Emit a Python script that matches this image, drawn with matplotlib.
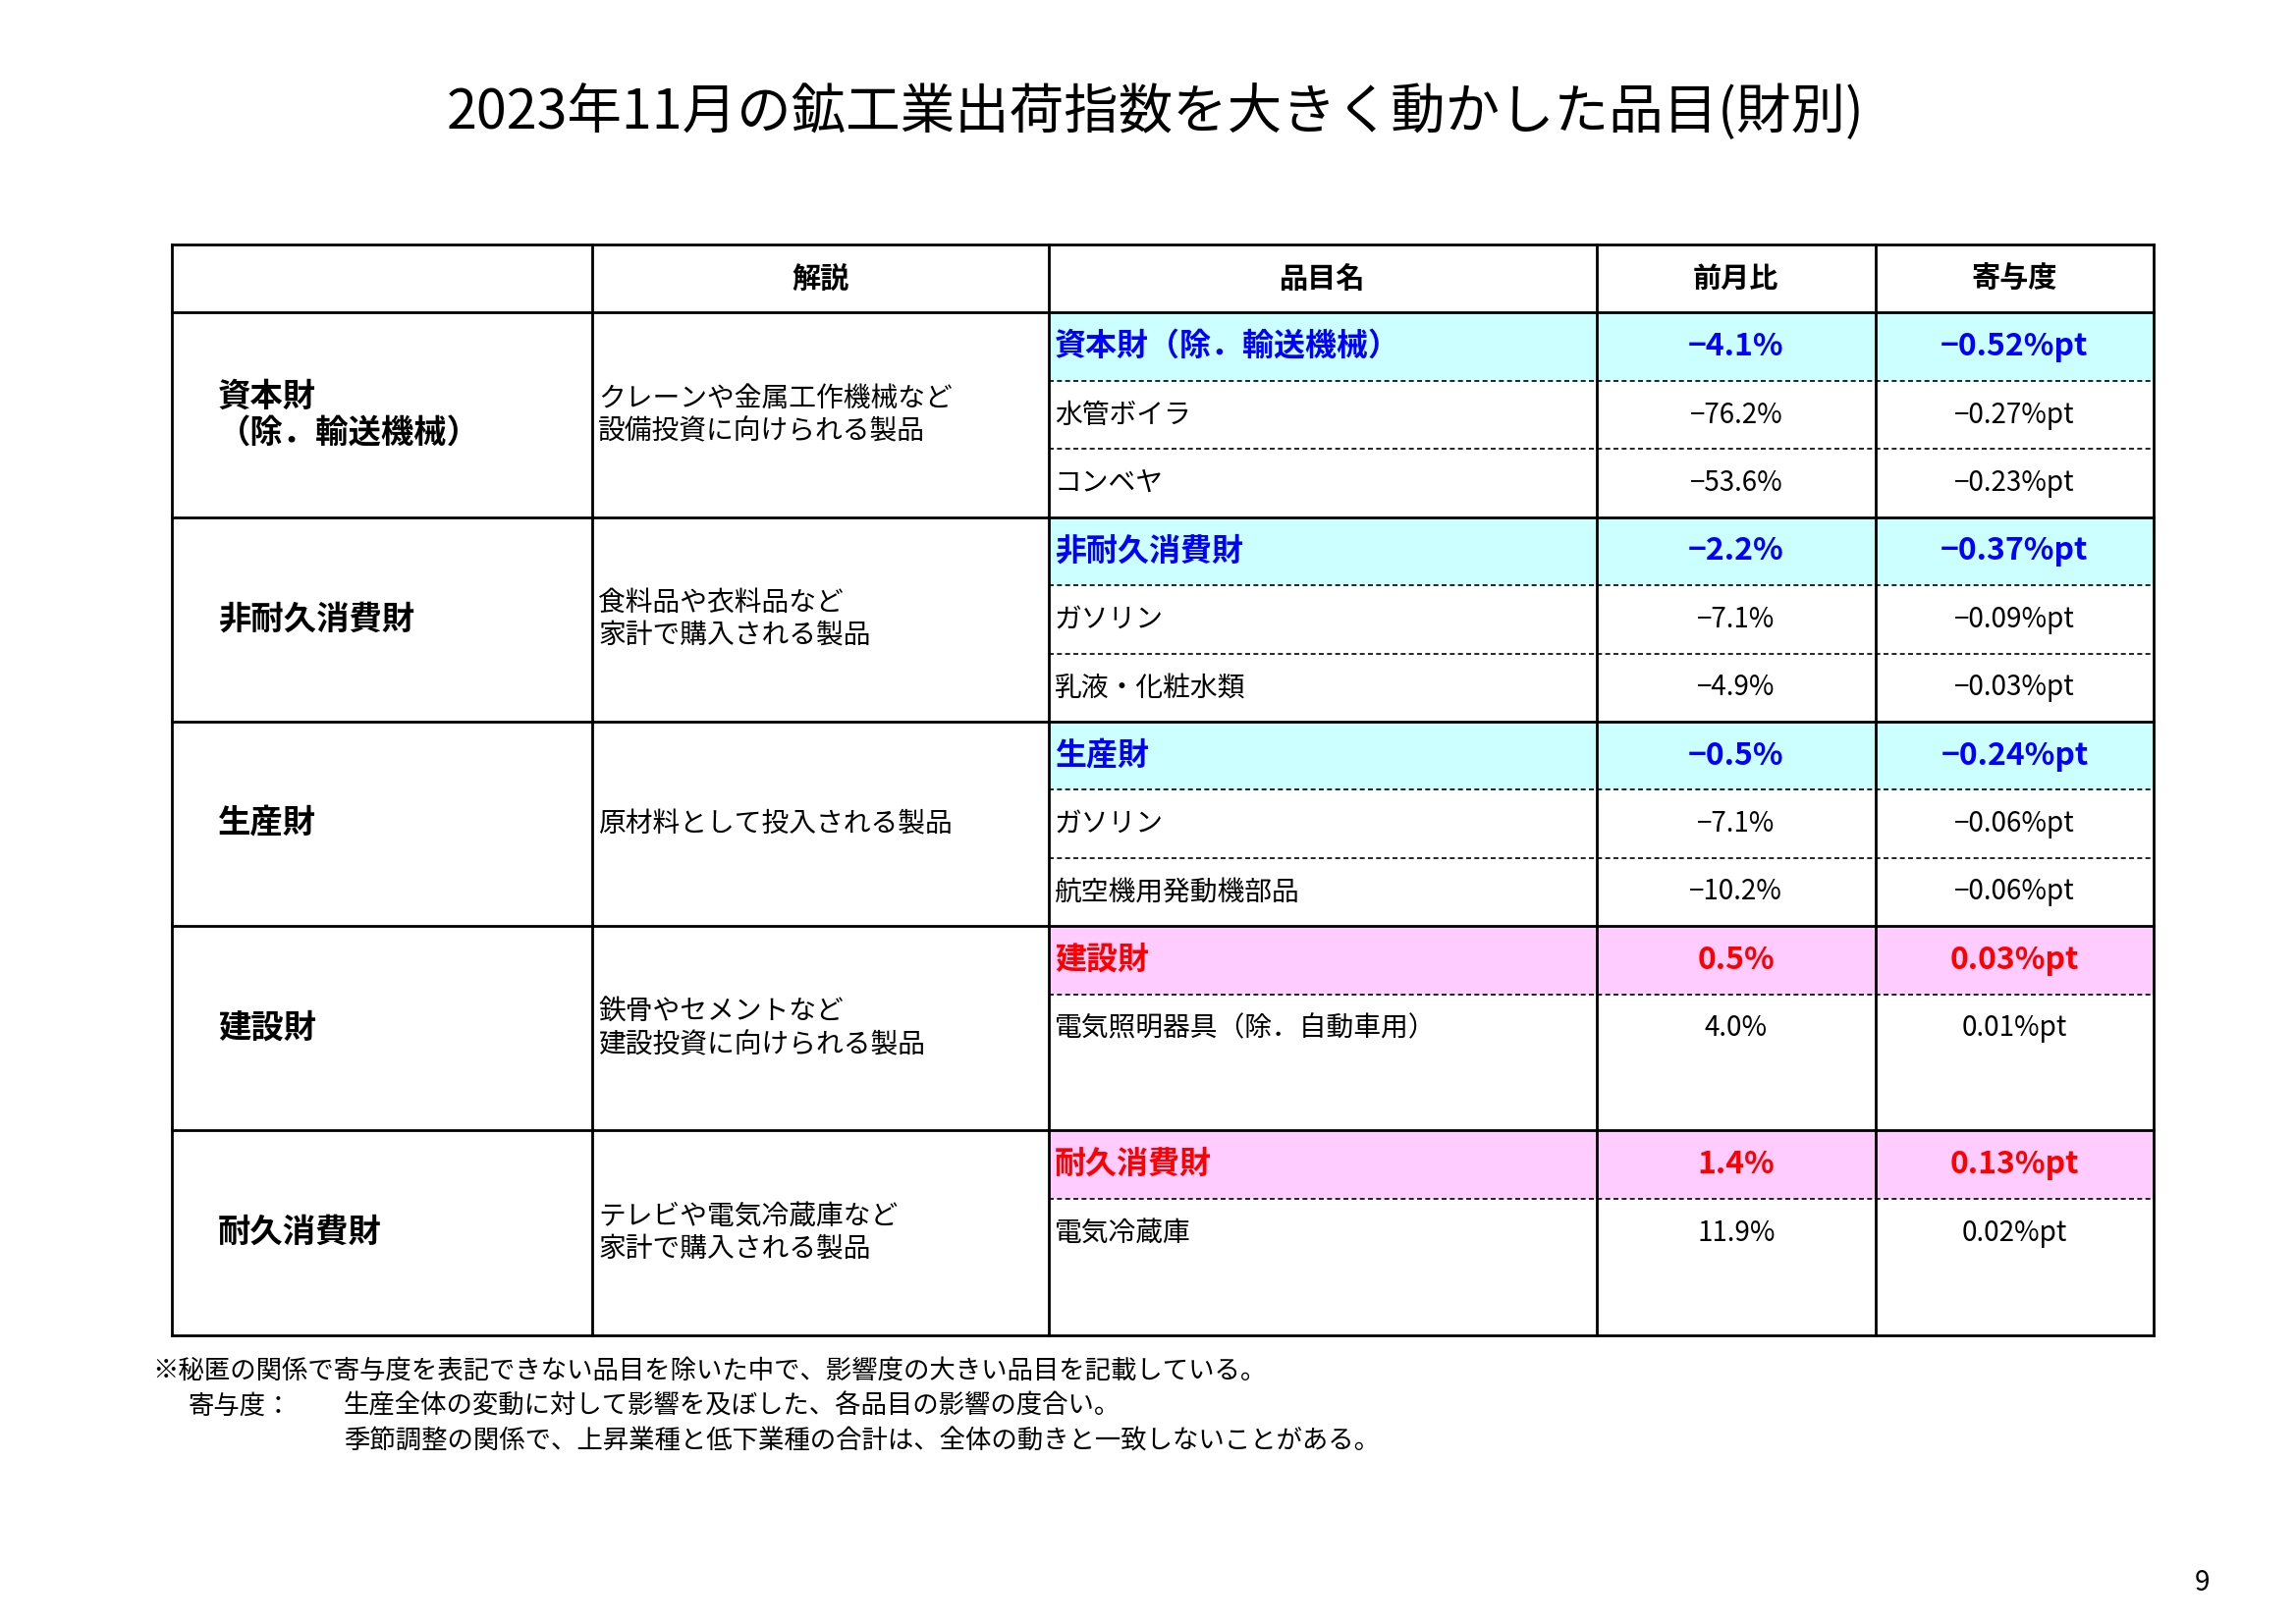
import matplotlib
matplotlib.use("Agg")
import matplotlib.pyplot as plt
from matplotlib.patches import Rectangle

plt.rcParams["font.family"] = "Noto Sans CJK JP"

title = "2023年11月の鉱工業出荷指数を大きく動かした品目(財別)"
headers = ["", "解説", "品目名", "前月比", "寄与度"]
categories = ["資本財\n（除．輸送機械）", "非耐久消費財", "生産財", "建設財", "耐久消費財"]
descriptions = ["クレーンや金属工作機械など\n設備投資に向けられる製品",
                "食料品や衣料品など\n家計で購入される製品",
                "原材料として投入される製品",
                "鉄骨やセメントなど\n建設投資に向けられる製品",
                "テレビや電気冷蔵庫など\n家計で購入される製品"]
items = [["資本財（除．輸送機械）", "水管ボイラ", "コンベヤ"],
         ["非耐久消費財", "ガソリン", "乳液・化粧水類"],
         ["生産財", "ガソリン", "航空機用発動機部品"],
         ["建設財", "電気照明器具（除．自動車用）"],
         ["耐久消費財", "電気冷蔵庫"]]
mom = [["−4.1%", "−76.2%", "−53.6%"],
       ["−2.2%", "−7.1%", "−4.9%"],
       ["−0.5%", "−7.1%", "−10.2%"],
       ["0.5%", "4.0%"],
       ["1.4%", "11.9%"]]
contrib = [["−0.52%pt", "−0.27%pt", "−0.23%pt"],
           ["−0.37%pt", "−0.09%pt", "−0.03%pt"],
           ["−0.24%pt", "−0.06%pt", "−0.06%pt"],
           ["0.03%pt", "0.01%pt"],
           ["0.13%pt", "0.02%pt"]]
footnotes = ["※秘匿の関係で寄与度を表記できない品目を除いた中で、影響度の大きい品目を記載している。",
             "寄与度：", "生産全体の変動に対して影響を及ぼした、各品目の影響の度合い。",
             "季節調整の関係で、上昇業種と低下業種の合計は、全体の動きと一致しないことがある。"]

W, H = 1550, 1096
fig = plt.figure(figsize=(23.38, 16.54), dpi=100)
ax = fig.add_axes([0, 0, 1, 1])
ax.set_xlim(0, W); ax.set_ylim(H, 0); ax.axis("off")

ax.text(780, 76, title, ha="center", va="center", fontsize=40)

cols = [116, 400, 708, 1078, 1266, 1454]
top, hdr = 165, 211
sub = 46
for i, h in enumerate(headers):
    ax.text((cols[i] + cols[i+1]) / 2, (top + hdr) / 2, h, ha="center", va="center",
            fontsize=21, fontweight="bold")

for s in range(5):
    y0 = hdr + s * 3 * sub
    y1 = y0 + 3 * sub
    hl = "#CCFFFF" if s < 3 else "#FFCCFF"
    tc = "#0000FF" if s < 3 else "#FF0000"
    ax.add_patch(Rectangle((cols[2], y0), cols[5] - cols[2], sub, facecolor=hl, edgecolor="none"))
    ax.text(147, (y0 + y1) / 2, categories[s], ha="left", va="center", fontsize=24,
            fontweight="bold", linespacing=1.15)
    ax.text(404, (y0 + y1) / 2, descriptions[s], ha="left", va="center", fontsize=20,
            linespacing=1.15)
    for k in range(len(items[s])):
        yc = y0 + sub * k + sub / 2
        first = k == 0
        kw = dict(fontsize=23 if first else 20, fontweight="bold" if first else "normal",
                  color=tc if first else "black", va="center")
        ax.text(cols[2] + 4, yc, items[s][k], ha="left", **kw)
        ax.text((cols[3] + cols[4]) / 2, yc, mom[s][k], ha="center", **kw)
        ax.text((cols[4] + cols[5]) / 2, yc, contrib[s][k], ha="center", **kw)
    nd = 3 if len(items[s]) == 3 else 2
    for k in range(1, nd):
        ax.plot([cols[2], cols[5]], [y0 + k * sub] * 2, color="black", lw=1.2, ls=(0, (3, 2)))
    ax.plot([cols[0], cols[5]], [y1, y1], color="black", lw=2)

bottom = hdr + 15 * sub
for x in cols:
    ax.plot([x, x], [top, bottom], color="black", lw=2)
for y in [top, hdr]:
    ax.plot([cols[0], cols[5]], [y, y], color="black", lw=2)

ax.text(103, 925, footnotes[0], ha="left", va="center", fontsize=19)
ax.text(127, 949, footnotes[1], ha="left", va="center", fontsize=19)
ax.text(232, 949, footnotes[2], ha="left", va="center", fontsize=19)
ax.text(232, 973, footnotes[3], ha="left", va="center", fontsize=19)
ax.text(1487, 1068, "9", ha="center", va="center", fontsize=20)

fig.savefig("out.png", dpi=100, facecolor="white")
